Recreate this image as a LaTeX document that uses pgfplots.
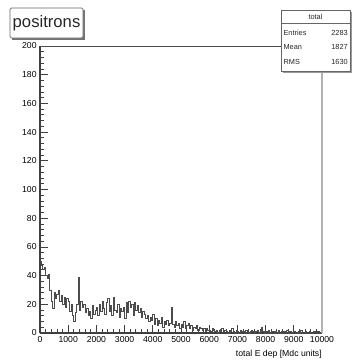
\documentclass[border=0pt]{standalone}
\usepackage{fontspec}
\setmainfont{Liberation Sans}
\usepackage{pgfplots}
\pgfplotsset{compat=1.18}
\begin{document}
\begin{tikzpicture}
\path[use as bounding box] (0pt,0pt) rectangle (264pt,-270.75pt);
\begin{axis}[
  at={(30pt,-249.75pt)}, anchor=south west,
  scale only axis, width=211.5pt, height=215.25pt,
  xmin=0, xmax=10000, ymin=0, ymax=200,
  axis x line*=bottom, axis y line*=left,
  axis line style={black!75, line width=0.9pt, -},
  xtick distance=1000, ytick distance=20,
  scaled x ticks=false, scaled y ticks=false,
  minor x tick num=4, minor y tick num=4,
  tick align=inside,
  major tick length=6pt, minor tick length=3pt,
  every tick/.style={black!75, line width=0.6pt},
  tick label style={font=\fontsize{6.5}{7}\selectfont, text=black},
  xticklabel style={yshift=1pt},
  yticklabel style={xshift=1pt},
  /pgf/number format/1000 sep={},
  /pgf/number format/assume math mode=true,
  xlabel={total E dep [Mdc units]},
  xlabel style={at={(rel axis cs:1,0)}, anchor=north east, yshift=-12.5pt, inner sep=0pt, font=\fontsize{6.5}{7}\selectfont, text=black},
  clip=false,
]
\draw[black!70, line width=0.7pt] (rel axis cs:0,1) -- (rel axis cs:1,1);
\draw[black!30, line width=0.9pt] (rel axis cs:1,1) -- (rel axis cs:1,0);
\addplot[const plot, draw=black!70, line width=0.65pt] table {
x y
0 50
50 47
100 44
150 46
200 40
250 38
300 41
350 30
400 22
450 17
500 28
550 24
600 27
650 30
700 22
750 26
800 20
850 25
900 18
950 24
1000 22
1050 15
1100 20
1150 12
1200 8
1250 14
1300 20
1350 39
1400 16
1450 22
1500 18
1550 20
1600 14
1650 17
1700 12
1750 15
1800 10
1850 19
1900 13
1950 16
2000 18
2050 12
2100 20
2150 15
2200 22
2250 17
2300 13
2350 21
2400 24
2450 15
2500 19
2550 12
2600 25
2650 16
2700 14
2750 20
2800 11
2850 17
2900 15
2950 18
3000 10
3050 21
3100 14
3150 22
3200 18
3250 20
3300 12
3350 21
3400 16
3450 19
3500 14
3550 17
3600 11
3650 15
3700 13
3750 10
3800 12
3850 8
3900 11
3950 9
4000 13
4050 6
4100 10
4150 5
4200 9
4250 7
4300 11
4350 4
4400 8
4450 6
4500 9
4550 5
4600 7
4650 18
4700 6
4750 4
4800 8
4850 5
4900 7
4950 3
5000 6
5050 4
5100 8
5150 3
5200 5
5250 7
5300 3
5350 5
5400 2
5450 4
5500 3
5550 5
5600 2
5650 4
5700 3
5750 2
5800 3
5850 1
5900 3
5950 2
6000 2
6050 1
6100 3
6150 2
6200 1
6250 2
6300 0
6350 2
6400 1
6450 3
6500 1
6550 2
6600 1
6650 0
6700 2
6750 1
6800 3
6850 1
6900 0
6950 2
7000 1
7050 0
7100 2
7150 1
7200 1
7250 0
7300 2
7350 1
7400 0
7450 1
7500 2
7550 1
7600 0
7650 1
7700 2
7750 0
7800 1
7850 4
7900 1
7950 0
8000 1
8050 0
8100 2
8150 0
8200 1
8250 1
8300 0
8350 1
8400 0
8450 2
8500 0
8550 1
8600 0
8650 1
8700 0
8750 2
8800 0
8850 1
8900 0
8950 0
9000 1
9050 0
9100 0
9150 1
9200 0
9250 2
9300 0
9350 0
9400 1
9450 0
9500 0
9550 1
9600 0
9650 0
9700 1
9750 0
9800 0
9850 1
9900 0
9950 0
10000 0
};
\end{axis}
% title box with shadow
\fill[black!55] (9pt,-7.5pt) rectangle (63.75pt,-30pt);
\draw[black!60, fill=white, line width=0.5pt, rounded corners=1pt] (7.5pt,-6pt) rectangle (62.25pt,-28.5pt);
\node[font=\fontsize{12.5}{14}\selectfont, text=black!85] at (34.9pt,-17.5pt) {positrons};
% stats box
\fill[black!40] (212pt,-8.75pt) rectangle (264pt,-54.5pt);
\draw[black!60, fill=white, line width=0.5pt] (210.75pt,-7.5pt) rectangle (262.5pt,-53.25pt);
\draw[black!60, line width=0.4pt] (210.75pt,-17.25pt) -- (262.5pt,-17.25pt);
\begin{scope}[every node/.style={font=\fontsize{5.5}{6}\selectfont, text=black!85, inner sep=0pt}]
\node at (236.6pt,-12.5pt) {total};
\node[anchor=west] at (212.5pt,-24.75pt) {Entries};
\node[anchor=east] at (261pt,-24.75pt) {2283};
\node[anchor=west] at (212.5pt,-35.25pt) {Mean};
\node[anchor=east] at (261pt,-35.25pt) {1827};
\node[anchor=west] at (212.5pt,-46.5pt) {RMS};
\node[anchor=east] at (261pt,-46.5pt) {1630};
\end{scope}
\end{tikzpicture}
\end{document}
